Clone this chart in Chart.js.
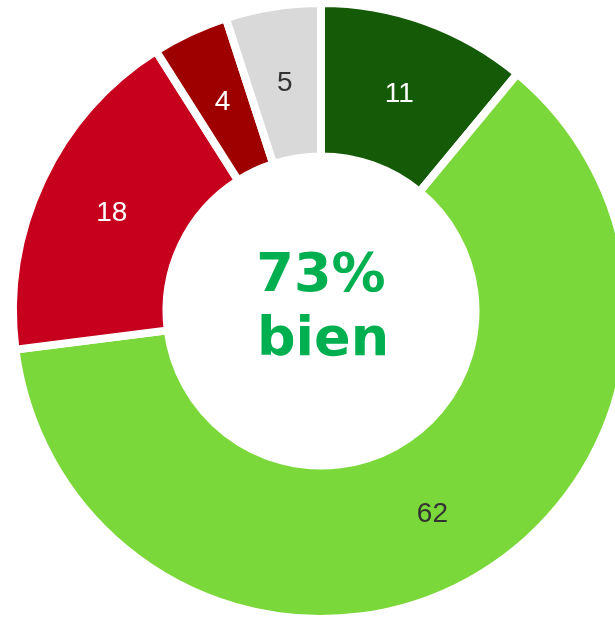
<!DOCTYPE html>
<html>
<head>
<meta charset="utf-8">
<script src="https://cdn.jsdelivr.net/npm/chart.js@4"></script>
<style>
  html, body { margin: 0; padding: 0; overflow: hidden; background: #fff; width: 615px; height: 618px; }
  #wrap { position: absolute; left: 0; top: 0; width: 642px; height: 622px; }
</style>
</head>
<body>
<div id="wrap"><canvas id="donut_chart"></canvas></div>
<script>
const DonutLabels = ['très bien', 'bien', 'pas bien', 'pas du tout', 'sans avis'];
const DonutValues = [11, 62, 18, 4, 5];
const DonutColors = ['#155b07', '#7ad83a', '#c6001d', '#9e0000', '#d9d9d9'];
const LabelColors = ['#ffffff', '#333333', '#ffffff', '#ffffff', '#333333'];
const CenterLines = ['73%', 'bien'];

// draws the value in the middle of each slice
const sliceLabels = {
    id: 'sliceLabels',
    afterDatasetsDraw(chart) {
        const ctx = chart.ctx;
        const meta = chart.getDatasetMeta(0);
        ctx.save();
        ctx.font = '28px "Liberation Sans", Arial, sans-serif';
        ctx.textAlign = 'center';
        ctx.textBaseline = 'middle';
        meta.data.forEach((arc, i) => {
            const p = arc.getCenterPoint();
            ctx.fillStyle = LabelColors[i];
            ctx.fillText(String(DonutValues[i]), p.x, p.y + 1);
        });
        ctx.restore();
    }
};

// big text in the hole
const centerText = {
    id: 'centerText',
    afterDraw(chart) {
        const ctx = chart.ctx;
        const arc = chart.getDatasetMeta(0).data[0];
        ctx.save();
        ctx.font = 'bold 54px "DejaVu Sans", Verdana, sans-serif';
        ctx.fillStyle = '#00b050';
        ctx.textAlign = 'center';
        ctx.textBaseline = 'middle';
        ctx.fillText(CenterLines[0], arc.x, arc.y - 34);
        ctx.fillText(CenterLines[1], arc.x + 2, arc.y + 30);
        ctx.restore();
    }
};

const DonutData = {
    labels: DonutLabels,
    datasets: [{
        data: DonutValues,
        backgroundColor: DonutColors,
        borderColor: '#ffffff',
        borderWidth: 8
    }]
};

const DonutConfig = {
    type: 'doughnut',
    data: DonutData,
    options: {
        responsive: true,
        maintainAspectRatio: false,
        animation: false,
        radius: 308,
        cutout: 154,
        plugins: {
            legend: { display: false },
            tooltip: { enabled: false }
        }
    },
    plugins: [sliceLabels, centerText]
};

// === display chart ===
var myDonut = new Chart(
    document.getElementById('donut_chart'),
    DonutConfig
);
</script>
</body>
</html>
